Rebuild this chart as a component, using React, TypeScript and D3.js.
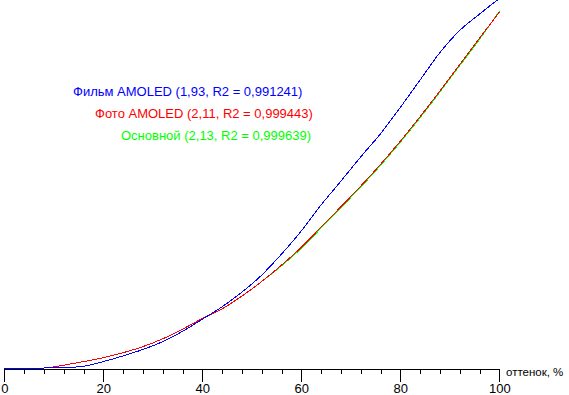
import { useEffect, useRef } from "react"
import * as d3 from "d3"

// shade steps, %
const shades = [0, 4, 8, 12, 16, 20, 24, 28, 32, 36, 40, 44, 48, 52, 56, 60, 64, 68, 72, 76, 80, 84, 88, 92, 96, 100]

const filmAmoled = [0, 0, 0, 0.1, 0.5, 1.8, 3.4, 5.2, 7.4, 10.3, 13.7, 17.2, 21.3, 26.1, 32.0, 38.5, 45.8, 52.5, 59.3, 65.8, 73.2, 80.9, 88.6, 94.8, 99.4, 103.8]
const photoAmoled = [0, 0, 0, 0.8, 1.8, 2.9, 4.3, 6.0, 8.2, 10.9, 13.9, 16.6, 20.2, 24.3, 28.9, 33.9, 39.6, 45.3, 51.1, 57.2, 63.7, 70.6, 77.8, 85.2, 92.6, 100]
const basic = [0, 0, 0, 0.8, 1.8, 2.9, 4.3, 6.0, 8.2, 10.9, 13.9, 16.6, 20.2, 24.3, 28.7, 33.6, 39.3, 45.0, 50.8, 56.9, 63.4, 70.3, 77.5, 84.9, 92.3, 100.2]

const minorTicks = d3.range(0, 101, 4)
const majorTicks = [0, 20, 40, 60, 80, 100]

const series = [
  { label: "Основной (2,13, R2 = 0,999639)", color: "#00ff00", values: basic, lx: 121, ly: 140 },
  { label: "Фото AMOLED (2,11, R2 = 0,999443)", color: "#ff0000", values: photoAmoled, lx: 95, ly: 118 },
  { label: "Фильм AMOLED (1,93, R2 = 0,991241)", color: "#0000ff", values: filmAmoled, lx: 73, ly: 96 },
]

const FONT = "'Liberation Sans', Arial, sans-serif"

function GammaChart() {
  const svgRef = useRef(null)

  useEffect(() => {
    if (!svgRef.current) return
    const svg = d3.select(svgRef.current)
    svg.selectAll("*").remove()

    const width = 569
    const height = 395

    const x = d3.scaleLinear().domain([0, 100]).range([4.3, 499.3])
    const y = d3.scaleLinear().domain([0, 100]).range([368, 12])

    // ось X: мелкие риски
    svg.append("g")
      .attr("transform", "translate(0,369)")
      .call(d3.axisBottom(x).tickValues(minorTicks).tickSize(5).tickSizeOuter(0).tickFormat(() => ""))
      .call((g) => g.selectAll("line,path").attr("stroke", "#000").attr("shape-rendering", "crispEdges"))

    // крупные риски с подписями
    svg.append("g")
      .attr("transform", "translate(0,369)")
      .call(d3.axisBottom(x).tickValues(majorTicks).tickSize(13).tickSizeOuter(0).tickFormat(d3.format("d")))
      .call((g) => g.select(".domain").remove())
      .call((g) => g.selectAll("line").attr("stroke", "#000").attr("shape-rendering", "crispEdges"))
      .call((g) =>
        g.selectAll("text")
          .attr("y", 15)
          .attr("font-size", "13px")
          .attr("font-family", FONT)
          .attr("fill", "#000"),
      )

    svg.append("text")
      .attr("x", 506)
      .attr("y", 375.5)
      .attr("font-size", "11.5px")
      .attr("font-family", FONT)
      .text("оттенок, %")

    const line = d3.line<number>()
      .x((_, i) => x(shades[i]))
      .y((d) => y(d))
      .curve(d3.curveMonotoneX)

    series.forEach((s) => {
      svg.append("path")
        .datum(s.values)
        .attr("fill", "none")
        .attr("stroke", s.color)
        .attr("stroke-width", 1)
        .attr("shape-rendering", "crispEdges")
        .attr("d", line)

      svg.append("text")
        .attr("x", s.lx)
        .attr("y", s.ly)
        .attr("font-size", "13px")
        .attr("font-family", FONT)
        .attr("fill", s.color)
        .text(s.label)
    })

    svg.attr("width", width).attr("height", height).attr("viewBox", [0, 0, width, height])
  }, [])

  return <svg ref={svgRef} style={{ position: "absolute", left: 0, top: 0, background: "#fff" }}></svg>
}

export default function App() {
  return <GammaChart />
}
